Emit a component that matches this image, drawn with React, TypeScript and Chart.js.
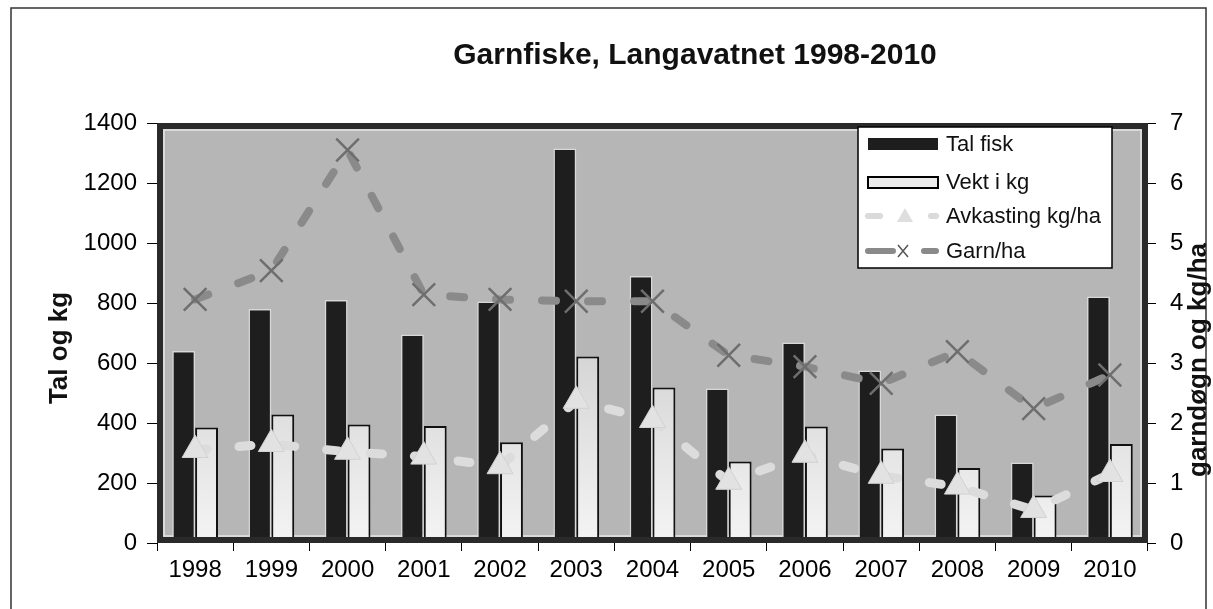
import React, { useEffect, useRef } from 'react';
import { Chart, registerables } from 'chart.js';

Chart.register(...registerables);

const categories = ['1998', '1999', '2000', '2001', '2002', '2003', '2004', '2005', '2006', '2007', '2008', '2009', '2010'];
const talFisk = [640, 780, 810, 695, 805, 1315, 890, 515, 668, 575, 428, 268, 822];
const vektKg = [385, 428, 395, 390, 336, 622, 518, 272, 388, 315, 250, 158, 330];
const avkasting = [1.55, 1.65, 1.52, 1.44, 1.28, 2.37, 2.05, 1.02, 1.47, 1.12, 0.94, 0.55, 1.15];
const garnPerHa = [4.06, 4.54, 6.55, 4.14, 4.06, 4.03, 4.03, 3.13, 2.94, 2.66, 3.19, 2.24, 2.8];
const leftTicks = [0, 1400, 200];
const rightTicks = [0, 7, 1];

const TITLE = 'Garnfiske, Langavatnet 1998-2010';
const LEFT_TITLE = 'Tal og kg';
const RIGHT_TITLE = 'garndøgn og kg/ha';
const LEGEND = ['Tal fisk', 'Vekt i kg', 'Avkasting kg/ha', 'Garn/ha'];

const FONT = '"Liberation Sans", Arial, sans-serif';

export default function App() {
  const ref = useRef<HTMLCanvasElement>(null);

  useEffect(() => {
    const canvas = ref.current!;
    const decor = {
      id: 'decor',
      beforeDraw(chart: any) {
        const c = chart.ctx;
        c.save();
        c.fillStyle = '#ffffff';
        c.fillRect(0, 0, chart.width, chart.height);
        c.strokeStyle = '#333';
        c.lineWidth = 1.5;
        c.beginPath();
        c.moveTo(11, 609);
        c.lineTo(11, 8);
        c.lineTo(1206, 8);
        c.lineTo(1206, 609);
        c.stroke();
        c.restore();
      },
      beforeDatasetsDraw(chart: any) {
        const c = chart.ctx;
        const a = chart.chartArea;
        c.save();
        c.fillStyle = '#b6b6b6';
        c.fillRect(a.left, a.top, a.right - a.left, a.bottom - a.top);
        c.strokeStyle = '#e6e6e6';
        c.lineWidth = 1.5;
        c.strokeRect(a.left + 7, a.top + 7, a.right - a.left - 14, a.bottom - a.top - 14);
        c.restore();
      },
      afterDatasetsDraw(chart: any) {
        const c = chart.ctx;
        const a = chart.chartArea;
        c.save();
        c.strokeStyle = '#2a2a2a';
        c.lineWidth = 6;
        c.strokeRect(a.left + 3, a.top + 3, a.right - a.left - 6, a.bottom - a.top - 6);
        c.restore();
      },
      afterDraw(chart: any) {
        const c = chart.ctx;
        c.save();
        c.fillStyle = '#111';
        // title
        c.font = `bold 30px ${FONT}`;
        c.textAlign = 'center';
        c.textBaseline = 'alphabetic';
        c.fillText(TITLE, 695, 64);
        // axis titles
        c.font = `bold 26px ${FONT}`;
        c.textBaseline = 'middle';
        c.save();
        c.translate(60, 348);
        c.rotate(-Math.PI / 2);
        c.fillText(LEFT_TITLE, 0, 0);
        c.restore();
        c.save();
        c.translate(1199, 360);
        c.rotate(-Math.PI / 2);
        c.fillText(RIGHT_TITLE, 0, 0);
        c.restore();

        // legend
        const lx = 858, ly = 127, lw = 254, lh = 141;
        c.fillStyle = '#ffffff';
        c.fillRect(lx, ly, lw, lh);
        c.strokeStyle = '#000';
        c.lineWidth = 1.5;
        c.strokeRect(lx, ly, lw, lh);
        const ys = [144, 182, 216, 251];
        // Tal fisk
        c.fillStyle = '#1e1e1e';
        c.fillRect(868, ys[0] - 6, 70, 12);
        // Vekt
        c.fillStyle = '#ececec';
        c.fillRect(868, ys[1] - 5, 70, 11);
        c.strokeStyle = '#000';
        c.lineWidth = 2;
        c.strokeRect(868, ys[1] - 5, 70, 11);
        // Avkasting
        c.lineCap = 'round';
        c.strokeStyle = '#dadada';
        c.lineWidth = 6;
        c.beginPath();
        c.moveTo(868, ys[2]); c.lineTo(880, ys[2]);
        c.moveTo(931, ys[2]); c.lineTo(936, ys[2]);
        c.stroke();
        c.fillStyle = '#dedede';
        c.beginPath();
        c.moveTo(905, ys[2] - 8); c.lineTo(913, ys[2] + 6); c.lineTo(897, ys[2] + 6); c.closePath();
        c.fill();
        // Garn
        c.strokeStyle = '#8a8a8a';
        c.lineWidth = 6;
        c.beginPath();
        c.moveTo(868, ys[3]); c.lineTo(893, ys[3]);
        c.moveTo(924, ys[3]); c.lineTo(936, ys[3]);
        c.stroke();
        c.strokeStyle = '#555';
        c.lineWidth = 1.5;
        c.lineCap = 'butt';
        c.beginPath();
        c.moveTo(898, ys[3] - 6); c.lineTo(908, ys[3] + 6);
        c.moveTo(908, ys[3] - 6); c.lineTo(898, ys[3] + 6);
        c.stroke();
        // legend text
        c.fillStyle = '#111';
        c.font = `22px ${FONT}`;
        c.textAlign = 'left';
        c.textBaseline = 'middle';
        LEGEND.forEach((t, i) => c.fillText(t, 946, ys[i] + 1));
        c.restore();
      },
    };

    const lightFill = (ctx: any) => {
      const chart = ctx.chart;
      const a = chart.chartArea;
      if (!a) return '#dddddd';
      const g = chart.ctx.createLinearGradient(0, a.top + 150, 0, a.bottom);
      g.addColorStop(0, '#c8c8c8');
      g.addColorStop(1, '#f4f4f4');
      return g;
    };

    const plain = (v: any) => String(v);

    const chart = new Chart(canvas, {
      type: 'bar',
      data: {
        labels: categories,
        datasets: [
          {
            type: 'line',
            label: LEGEND[3],
            data: garnPerHa,
            yAxisID: 'y1',
            order: 0,
            borderColor: '#8a8a8a',
            borderWidth: 8,
            borderDash: [14, 32],
            borderCapStyle: 'round',
            pointStyle: 'crossRot',
            pointRadius: 16,
            pointBorderWidth: 2.5,
            pointBorderColor: '#6e6e6e',
            pointBackgroundColor: '#6e6e6e',
            fill: false,
            tension: 0,
          } as any,
          {
            type: 'line',
            label: LEGEND[2],
            data: avkasting,
            yAxisID: 'y1',
            order: 1,
            borderColor: '#dcdcdc',
            borderWidth: 9,
            borderDash: [12, 32],
            borderCapStyle: 'round',
            pointStyle: 'triangle',
            pointRadius: 15,
            pointBackgroundColor: '#e2e2e2',
            pointBorderColor: '#d2d2d2',
            pointBorderWidth: 1,
            fill: false,
            tension: 0,
          } as any,
          {
            type: 'bar',
            label: LEGEND[0],
            data: talFisk,
            yAxisID: 'y',
            order: 2,
            backgroundColor: '#1e1e1e',
            borderColor: '#d8d8d8',
            borderWidth: 1.5,
            categoryPercentage: 0.6,
            barPercentage: 1.0,
          } as any,
          {
            type: 'bar',
            label: LEGEND[1],
            data: vektKg,
            yAxisID: 'y',
            order: 2,
            backgroundColor: lightFill,
            borderColor: '#111111',
            borderWidth: 2,
            categoryPercentage: 0.6,
            barPercentage: 1.0,
          } as any,
        ],
      },
      options: {
        responsive: false,
        animation: false,
        devicePixelRatio: 1,
        layout: { padding: { top: 123, left: 0, right: 0, bottom: 0 } },
        plugins: {
          legend: { display: false },
          title: { display: false },
          tooltip: { enabled: false },
        },
        scales: {
          x: {
            offset: true,
            grid: { display: true, drawOnChartArea: false, drawTicks: true, tickLength: 8, color: '#000', offset: true },
            border: { display: false },
            ticks: { color: '#000', font: { size: 24, family: FONT }, padding: 5, maxRotation: 0, autoSkip: false },
            afterFit: (s: any) => { s.height = 66; },
          },
          y: {
            position: 'left',
            min: leftTicks[0],
            max: leftTicks[1],
            ticks: { stepSize: leftTicks[2], color: '#000', font: { size: 24, family: FONT }, padding: 10, callback: plain },
            grid: { drawOnChartArea: false, drawTicks: true, tickLength: 10, color: '#000' },
            border: { display: false },
            afterFit: (s: any) => { s.width = 157; },
          },
          y1: {
            position: 'right',
            min: rightTicks[0],
            max: rightTicks[1],
            ticks: { stepSize: rightTicks[2], color: '#000', font: { size: 24, family: FONT }, padding: 14, callback: plain },
            grid: { drawOnChartArea: false, drawTicks: true, tickLength: 8, color: '#000' },
            border: { display: false },
            afterFit: (s: any) => { s.width = 65; },
          },
        },
      } as any,
      plugins: [decor],
    });
    return () => chart.destroy();
  }, []);

  return (
    <div style={{ position: 'fixed', left: 0, top: 0, width: 1213, height: 609, background: '#fff' }}>
      <canvas ref={ref} width={1213} height={609} style={{ display: 'block', width: 1213, height: 609 }} />
    </div>
  );
}
